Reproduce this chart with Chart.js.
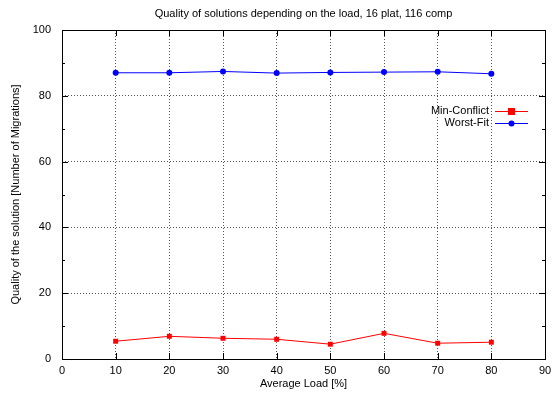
<!DOCTYPE html>
<html>
<head>
<meta charset="utf-8">
<script src="https://cdn.jsdelivr.net/npm/chart.js@4/dist/chart.umd.min.js"></script>
<style>
html, body { margin: 0; padding: 0; background: #fff; }
</style>
</head>
<body>
<canvas id="grafico" width="558" height="393"></canvas>
<script>
// dados
const cargas = [10, 20, 30, 40, 50, 60, 70, 80];
const minConflict = [5.4, 6.9, 6.3, 6.0, 4.5, 7.8, 4.8, 5.1];
const worstFit = [87.0, 87.0, 87.4, 86.9, 87.1, 87.2, 87.3, 86.7];
const nomesSeries = ['Min-Conflict', 'Worst-Fit'];
const titulo = 'Quality of solutions depending on the load, 16 plat, 116 comp';

const fonte = { family: '"Liberation Sans", Arial, sans-serif', size: 11 };
const fonteCss = '11px "Liberation Sans", Arial, sans-serif';

function pontos(valores) {
	return cargas.map((c, i) => ({ x: c, y: valores[i] }));
}

// moldura, marcas internas, título e legenda no estilo gnuplot
const moldura = {
	id: 'moldura',
	afterDatasetsDraw(chart) {
		const ctx = chart.ctx;
		const a = chart.chartArea;
		const sx = chart.scales.x, sy = chart.scales.y;
		ctx.save();
		ctx.strokeStyle = '#000';
		ctx.lineWidth = 1;
		ctx.beginPath();
		// marcas do eixo y (maiores a cada 20, menores a cada 10)
		for (let v = 10; v < 100; v += 10) {
			const y = Math.round(sy.getPixelForValue(v)) + 0.5;
			const len = v % 20 === 0 ? 6 : 3;
			ctx.moveTo(a.left, y); ctx.lineTo(a.left + len, y);
			ctx.moveTo(a.right, y); ctx.lineTo(a.right - len, y);
		}
		for (let v = 10; v < 90; v += 10) {
			const x = Math.round(sx.getPixelForValue(v)) + 0.5;
			ctx.moveTo(x, a.bottom); ctx.lineTo(x, a.bottom - 6);
			ctx.moveTo(x, a.top); ctx.lineTo(x, a.top + 6);
		}
		ctx.stroke();
		ctx.strokeRect(Math.round(a.left) + 0.5, Math.round(a.top) + 0.5,
			Math.round(a.right - a.left), Math.round(a.bottom - a.top));
		ctx.restore();
	},
	afterDraw(chart) {
		const ctx = chart.ctx;
		const a = chart.chartArea;
		ctx.save();
		ctx.font = fonteCss;
		ctx.fillStyle = '#000';
		ctx.textAlign = 'center';
		ctx.textBaseline = 'middle';
		ctx.fillText(titulo, (a.left + a.right) / 2, 14);

		// legenda
		const cores = ['#ff0000', '#0000ff'];
		const ys = [111, 123];
		ctx.textAlign = 'right';
		nomesSeries.forEach((nome, i) => {
			ctx.fillStyle = '#000';
			ctx.fillText(nome, 489, ys[i]);
			ctx.strokeStyle = cores[i];
			ctx.lineWidth = 1;
			ctx.beginPath();
			ctx.moveTo(495, ys[i] + 0.5);
			ctx.lineTo(528, ys[i] + 0.5);
			ctx.stroke();
			ctx.fillStyle = cores[i];
			if (i === 0) {
				ctx.fillRect(508, ys[i] - 3, 7, 7);
			} else {
				ctx.beginPath();
				ctx.arc(511.5, ys[i] + 0.5, 3, 0, Math.PI * 2);
				ctx.fill();
			}
		});
		ctx.restore();
	}
};

const config = {
	type: 'line',
	data: {
		datasets: [{
			label: nomesSeries[0],
			data: pontos(minConflict),
			borderColor: '#ff0000',
			backgroundColor: '#ff0000',
			borderWidth: 1,
			pointStyle: 'rect',
			pointRadius: 3.5,
			pointBorderWidth: 0
		}, {
			label: nomesSeries[1],
			data: pontos(worstFit),
			borderColor: '#0000ff',
			backgroundColor: '#0000ff',
			borderWidth: 1,
			pointStyle: 'circle',
			pointRadius: 3,
			pointBorderWidth: 0
		}]
	},
	options: {
		responsive: false,
		animation: false,
		devicePixelRatio: 1,
		layout: { padding: { top: 30, right: 13, left: 0, bottom: 0 } },
		plugins: {
			legend: { display: false },
			title: { display: false },
			tooltip: { enabled: false }
		},
		scales: {
			x: {
				type: 'linear',
				min: 0,
				max: 90,
				afterFit(scale) { scale.height = 34; },
				ticks: { stepSize: 10, color: '#000', font: fonte, padding: 5, maxRotation: 0 },
				grid: {
					drawTicks: false,
					color: '#555',
					lineWidth: 1
				},
				border: { display: false, dash: [1, 2] },
				title: { display: true, text: 'Average Load [%]', color: '#000', font: fonte, padding: { top: 0, bottom: 2 } }
			},
			y: {
				min: 0,
				max: 100,
				afterFit(scale) { scale.width = 62; },
				ticks: { stepSize: 20, color: '#000', font: fonte, padding: 11 },
				grid: {
					drawTicks: false,
					color: '#555',
					lineWidth: 1
				},
				border: { display: false, dash: [1, 2] },
				title: { display: true, text: 'Quality of the solution [Number of Migrations]', color: '#000', font: fonte, padding: { top: 9, bottom: 0 } }
			}
		}
	},
	plugins: [moldura]
};

const myChart = new Chart(document.getElementById('grafico'), config);
</script>
</body>
</html>
